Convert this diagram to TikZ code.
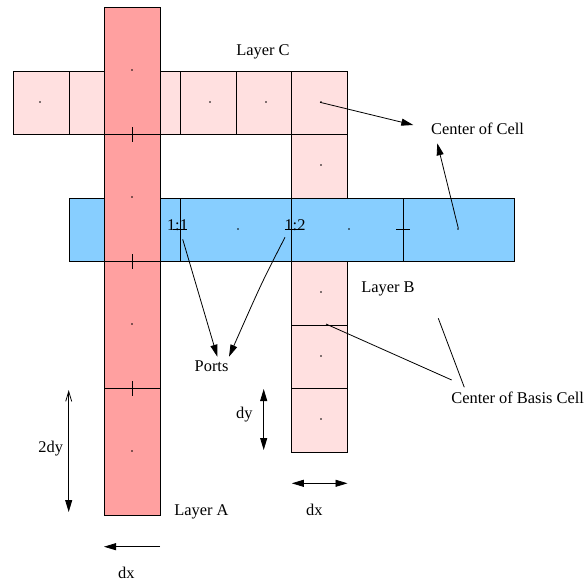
\documentclass[tikz,border=0pt]{standalone}
\usepackage{fontspec}
\setmainfont{Liberation Serif}
\usetikzlibrary{arrows.meta}
\definecolor{redA}{HTML}{FFA0A0}
\definecolor{pinkC}{HTML}{FFE0E0}
\definecolor{blueB}{HTML}{87CEFF}
\begin{document}
\begin{tikzpicture}[x=1pt,y=-1pt,line width=0.8pt,
  lbl/.style={inner sep=0pt,font=\fontsize{16.4}{18}\selectfont},
  tip/.style={-{Triangle[length=12pt,width=7pt]}},
  tips/.style={{Triangle[length=12pt,width=7pt]}-{Triangle[length=12pt,width=7pt]}},
  celldraw/.style={draw=black}]
\useasboundingbox (0,0) rectangle (587,582);
% Layer C row and column
\foreach \i in {0,...,5} \draw[celldraw,fill=pinkC] (13.3+55.7*\i,71) rectangle ++(55.7,63.5);
\foreach \j in {0,...,4} \draw[celldraw,fill=pinkC] (291.8,134.5+63.5*\j) rectangle ++(55.7,63.5);
% Layer B
\foreach \i in {0,...,3} \draw[celldraw,fill=blueB] (69+111.4*\i,198) rectangle ++(111.4,63.5);
% Layer A
\foreach \j in {0,...,3} \draw[celldraw,fill=redA] (104,7+127.125*\j) rectangle ++(56,127.125);
% dots
\foreach \p in {(40,102),(210,102),(266,102),(321,102),(321,165),(321,292),(321,356),(321,419),
  (238,229),(349,229),(458,229),(132,70),(132,197),(132,324),(132,451)}
  \fill \p circle (0.9);
% ticks
\foreach \y in {134.5,261.5,388.5} \draw (132,\y-7.5) -- (132,\y+7.5);
\foreach \x in {180.4,291.8,403.2} \draw (\x-7,229) -- (\x+7,229);
% labels
\node[lbl,anchor=base] (lc) at (263,55) {Layer C};
\node[lbl,anchor=base west] (cc) at (430.7,134) {Center of Cell};
\node[lbl,anchor=base] (p11) at (177.5,230) {1:1};
\node[lbl,anchor=base] (p12) at (295,230) {1:2};
\node[lbl,anchor=base west] (lb) at (361,292.7) {Layer B};
\node[lbl,anchor=base west] (ports) at (194.3,371.7) {Ports};
\node[lbl,anchor=base west] (cbc) at (451,403) {Center of Basis Cell};
\node[lbl,anchor=base west] (ldy) at (235.7,418) {dy};
\node[lbl,anchor=base west] (l2dy) at (38,452) {2dy};
\node[lbl,anchor=base west] (la) at (174,515) {Layer A};
\node[lbl,anchor=base west] (ldxr) at (305.7,515) {dx};
\node[lbl,anchor=base west] (ldxl) at (117.7,578) {dx};
% connector end points
\coordinate (ccs) at (320,102.3);
\coordinate (cct) at (413.3,125);
\coordinate (cbs) at (458.3,228.3);
\coordinate (cbt) at (437.3,143.3);
\coordinate (p1s) at (182.7,239.3);
\coordinate (p1t) at (217.3,356.7);
\coordinate (p2s) at (285,237.3);
\coordinate (p2t) at (229,356.7);
\coordinate (b1s) at (326,324);
\coordinate (b1t) at (451.7,380);
\coordinate (b2s) at (438.3,318.3);
\coordinate (b2t) at (464.3,387.3);
\coordinate (dxra) at (291.8,483.3);
\coordinate (dxrb) at (347.5,483.3);
\coordinate (dxla) at (160,546.7);
\coordinate (dxlb) at (104,546.7);
\coordinate (dya) at (263.7,389);
\coordinate (dyb) at (263.7,450);
\coordinate (dy2a) at (68.7,390);
\coordinate (dy2b) at (68.7,512);
% connectors
\draw[tip] (ccs) -- (cct);
\draw[tip] (cbs) -- (cbt);
\draw[tip] (p1s) -- (p1t);
\draw[tip] (p2s) .. controls (262,282) .. (p2t);
\draw (b1s) -- (b1t);
\draw (b2s) -- (b2t);
\draw[tips] (dxra) -- (dxrb);
\draw[tip] (dxla) -- (dxlb);
\draw[tips] (dya) -- (dyb);
\draw[{Straight Barb[length=10pt,width=6pt]}-{Triangle[length=12pt,width=7pt]}] (dy2a) -- (dy2b);
\end{tikzpicture}
\end{document}
